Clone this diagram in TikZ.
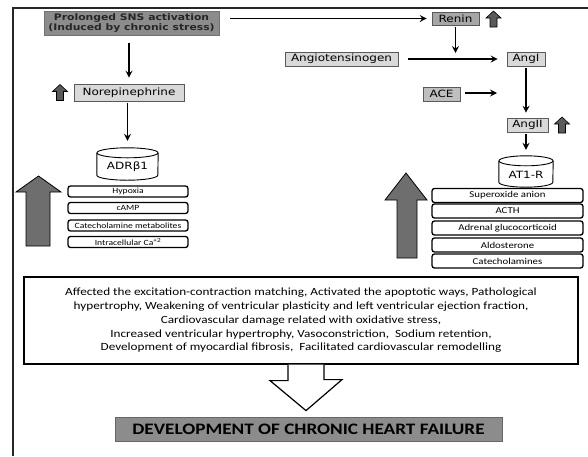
\documentclass[tikz,border=0pt]{standalone}
\usepackage{fontspec}
\setmainfont{Carlito}[FakeStretch=1.2]
\newfontfamily\vfont{DejaVu Sans}[FakeStretch=1.2]
\usetikzlibrary{arrows.meta}
\definecolor{boxdark}{HTML}{8C8C8C}
\definecolor{boxmid}{HTML}{A6A6A6}
\definecolor{boxlight}{HTML}{D9D9D9}
\definecolor{acegray}{HTML}{BFBFBF}
\definecolor{bigarrow}{HTML}{6E6E6E}
\definecolor{smallarrow}{HTML}{5A5A5A}
\begin{document}
\begin{tikzpicture}[x=1pt,y=-1pt,
  lbl/.style={draw=black!65, line width=0.6pt, fill=boxlight, inner sep=0pt,
    font=\vfont\fontsize{10}{12}\selectfont, minimum height=14pt},
  arr/.style={-{Stealth[length=7pt,width=7pt,inset=2.5pt]}, line width=1.3pt},
  stk/.style={draw=black, line width=1.3pt, rounded corners=2.5pt, fill=white,
    inner sep=0pt},
  cyltext/.style={inner sep=0pt, font=\vfont\fontsize{10}{12}\selectfont},
  cylline/.style={draw=black, line width=0.9pt, fill=white},
  bigarr/.style={fill=bigarrow, draw=black, line width=0.8pt},
  upicon/.pic={\filldraw[fill=smallarrow, draw=black, line width=0.6pt]
    (-3.5,8) -- (-3.5,-1) -- (-7.5,-1) -- (0,-8) -- (7.5,-1) -- (3.5,-1) -- (3.5,8) -- cycle;}
]
\useasboundingbox (0,0) rectangle (588,456);
\fill[white] (0,0) rectangle (588,456);
% frame
\draw[line width=1.6pt, black!85] (13,456) -- (13,8) -- (588,8);

% SNS and RAS nodes
\node[lbl, fill=boxdark, draw=black!55, minimum width=175pt, minimum height=24pt,
  font=\vfont\bfseries\fontsize{9}{10.5}\selectfont, align=center, text=black!85]
  (sns) at (131.5,23) {Prolonged SNS activation\\(Induced by chronic stress)};
\node[lbl, fill=boxmid, minimum width=47pt, minimum height=13pt] (renin) at (455.5,18.5) {Renin};
\node[lbl, minimum width=113pt] (angt) at (341.5,59) {Angiotensinogen};
\node[lbl, minimum width=38pt] (angI) at (526,59) {AngI};
\node[lbl, fill=acegray, minimum width=37pt] (ace) at (441.5,94) {ACE};
\node[lbl, minimum width=41pt] (angII) at (527.5,125) {AngII};
\node[lbl, minimum width=110pt, minimum height=17pt] (nor) at (129,92.5) {Norepinephrine};

\pic at (493.5,19) {upicon};
\pic at (562,125) {upicon};
\pic at (60,92.5) {upicon};

% cylinders
\node[cyltext, minimum width=61pt, minimum height=32pt] (adr) at (127.5,164) {};
\draw[cylline] ([yshift=-5pt]adr.north west) -- ([yshift=5pt]adr.south west)
  arc[start angle=180, end angle=360, x radius=30.5pt, y radius=5pt]
  -- ([yshift=-5pt]adr.north east);
\draw[cylline] ([yshift=-5pt]adr.north) ellipse[x radius=30.5pt, y radius=5pt];
\node[cyltext] at ([yshift=-3pt]adr.center) {ADRβ1};

\node[cyltext, minimum width=54pt, minimum height=31pt] (at1) at (526,171.5) {};
\draw[cylline] ([yshift=-5pt]at1.north west) -- ([yshift=5pt]at1.south west)
  arc[start angle=180, end angle=360, x radius=27pt, y radius=5pt]
  -- ([yshift=-5pt]at1.north east);
\draw[cylline] ([yshift=-5pt]at1.north) ellipse[x radius=27pt, y radius=5pt];
\node[cyltext] at ([yshift=-3pt]at1.center) {AT1-R};

% connectors
\coordinate (rj) at (455.5,60);
\coordinate (aj) at (497,93);
\draw[arr, shorten <=11pt, shorten >=5pt] (sns.east |- renin.west) -- (renin.west);
\draw[arr, shorten <=2pt, shorten >=7pt] (renin.south) -- (rj);
\draw[arr, shorten <=10pt, shorten >=9pt] (angt.east) -- (angI.west);
\draw[arr, shorten <=5pt] (ace.east |- aj) -- (aj);
\draw[arr, shorten <=2pt, shorten >=5pt] (angI.south) -- (angI.south |- angII.north);
\draw[arr, shorten <=2pt, shorten >=6pt] (at1.north |- angII.south) -- (at1.north);
\draw[arr, shorten <=8pt, shorten >=6pt] (nor.north |- sns.south) -- (nor.north);
\draw[arr, shorten <=2pt, shorten >=7pt] (adr.north |- nor.south) -- (adr.north);

% left stack
\begin{scope}[every node/.style={stk, minimum width=120pt, minimum height=11pt, font=\fontsize{8}{9}\selectfont}]
\node (l1) at (128,191.5) {Hypoxia};
\node (l2) at (128,208) {cAMP};
\node (l3) at (128,225.5) {Catecholamine metabolites};
\node (l4) at (128,242) {Intracellular Ca\textsuperscript{+2}};
\end{scope}
% right stack
\begin{scope}[every node/.style={stk, minimum width=151pt, minimum height=14pt, font=\fontsize{9}{10}\selectfont}]
\node (r1) at (507.5,195.5) {Superoxide anion};
\node (r2) at (507.5,211) {ACTH};
\node (r3) at (507.5,228) {Adrenal glucocorticoid};
\node (r4) at (507.5,245) {Aldosterone};
\node (r5) at (507.5,261) {Catecholamines};
\end{scope}

% big arrows
\draw[bigarr] (26,246) -- (26,192) -- (16,192) -- (38.5,176) -- (61,192) -- (50,192) -- (50,246) -- cycle;
\draw[bigarr] (397,258) -- (397,200) -- (385,200) -- (406,173) -- (427,200) -- (417,200) -- (417,258) -- cycle;

% effects box
\node[draw, line width=1.2pt, minimum width=554pt, minimum height=87pt, align=center,
  font=\fontsize{11}{13.75}\selectfont] (eff) at (301,320.5)
  {Affected the excitation-contraction matching, Activated the apoptotic ways, Pathological\\
   hypertrophy, Weakening of ventricular plasticity and left ventricular ejection fraction,\\
   Cardiovascular damage related with oxidative stress,\\
   Increased ventricular hypertrophy, Vasoconstriction,\ \ Sodium retention,\\
   Development of myocardial fibrosis,\ \ Facilitated cardiovascular remodelling};

\node[draw=black!60, line width=0.8pt, fill=boxdark, minimum width=387pt, minimum height=24pt,
  inner sep=0pt, font=\bfseries\fontsize{16}{18}\selectfont] (chf) at (308.5,429)
  {DEVELOPMENT OF CHRONIC HEART FAILURE};

% hollow arrow
\draw[line width=1.2pt, fill=white] ([xshift=-13pt]eff.south) -- ++(0,16) -- ++(-18,0)
  -- ([xshift=-2.5pt,yshift=6pt]chf.north) -- ++(36,-31) -- ++(-18,0) -- ([xshift=23pt]eff.south);
\end{tikzpicture}
\end{document}
